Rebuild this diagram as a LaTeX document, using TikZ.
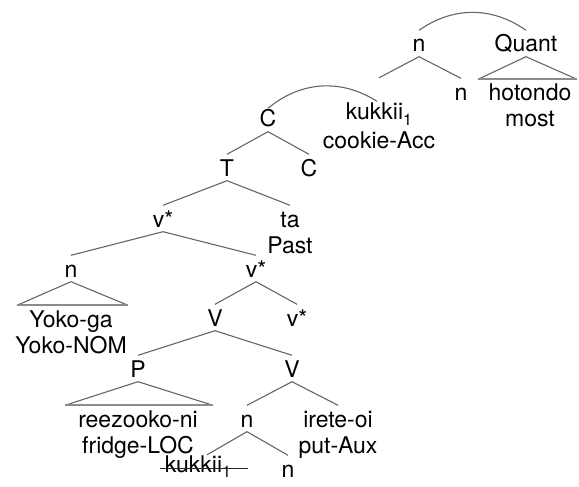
\documentclass[tikz,border=0pt]{standalone}
\usepackage{fontspec}
\setmainfont{TeX Gyre Heros}
\def\mystrut{\vrule width0pt height21.5pt depth4.5pt\relax}
\newcommand\twol[3][4.5pt]{\vtop{\offinterlineskip\halign{\hfil##\hfil\cr\vrule width0pt height21.5pt depth#1\relax #2\cr\mystrut #3\cr}}}
\newcommand\subone{\raisebox{-5.5pt}{\fontsize{16}{16}\selectfont 1}}
\begin{document}
\begin{tikzpicture}[x=1pt,y=-1pt,
  lab/.style={inner sep=0pt, anchor=base, font=\fontsize{23}{26}\selectfont, execute at begin node=\mystrut},
  br/.style={draw=black!60, line width=1.1pt},
  tribase/.style={draw=black!45, line width=1.8pt},
  strike/.style={draw=black!85, line width=1pt}]
\fill[white] (0,0) rectangle (579,487);
\useasboundingbox (0,0) rectangle (579,487);
% nodes
\node[lab] (nt) at (419,52) {n};
\node[lab] (q) at (526,52) {Quant};
\node[lab] (ho) at (530,100) {\twol{hotondo}{most}};
\node[lab] (nn) at (461,100) {n};
\node[lab] (ku) at (379,120) {\twol[7.5pt]{kukkii\subone}{cookie-Acc}};
\node[lab] (c1) at (268,127) {C};
\node[lab] (t) at (227,176) {T};
\node[lab] (c2) at (309,176) {C};
\node[lab] (vs1) at (163,227) {v*};
\node[lab] (ta) at (290,227) {\twol{ta}{Past}};
\node[lab] (n1) at (71,277) {n};
\node[lab] (vs2) at (256,277) {v*};
\node[lab] (yo) at (71,327) {\twol{Yoko-ga}{Yoko-NOM}};
\node[lab] (v1) at (215,326) {V};
\node[lab] (vs3) at (297,326) {v*};
\node[lab] (p) at (138,377) {P};
\node[lab] (v2) at (292,377) {V};
\node[lab] (re) at (138,427) {\twol{reezooko-ni}{fridge-LOC}};
\node[lab] (n2) at (247,427) {n};
\node[lab] (ir) at (338,427) {\twol{irete-oi}{put-Aux}};
\node[lab] (kk) at (198,472) {kukkii\subone};
\node[lab] (n3) at (288,477) {n};
% branches
\draw[br] (c1.south) -- (t.north);
\draw[br] (c1.south) -- (c2.north);
\draw[br] (t.south) -- (vs1.north);
\draw[br] (t.south) -- (ta.north);
\draw[br] (vs1.south) -- (n1.north);
\draw[br] (vs1.south) -- (vs2.north);
\draw[br] (vs2.south) -- (v1.north);
\draw[br] (vs2.south) -- (vs3.north);
\draw[br] (v1.south) -- (p.north);
\draw[br] (v1.south) -- (v2.north);
\draw[br] (v2.south) -- (n2.north);
\draw[br] (v2.south) -- (ir.north);
\draw[br] (n2.south) -- ([xshift=9pt,yshift=-4.5pt]kk.north);
\draw[br] (n2.south) -- (n3.north);
\draw[br] (nt.south) -- ([yshift=20.5pt]ku.north);
\draw[br] (nt.south) -- (nn.north);
% triangles
\draw[br] ([xshift=-54pt]yo.north) -- (n1.south) -- ([xshift=57pt]yo.north);
\draw[tribase] ([xshift=-54pt]yo.north) -- ([xshift=57pt]yo.north);
\draw[br] ([xshift=-73pt]re.north) -- (p.south) -- ([xshift=75pt]re.north);
\draw[tribase] ([xshift=-73pt]re.north) -- ([xshift=75pt]re.north);
\draw[br] ([xshift=-52pt,yshift=-1pt]ho.north) -- (q.south) -- ([xshift=47pt,yshift=-1pt]ho.north);
\draw[tribase] ([xshift=-52pt,yshift=-1pt]ho.north) -- ([xshift=47pt,yshift=-1pt]ho.north);
% movement arcs
\draw[br] ([yshift=-3pt]c1.north) to[bend left=36] ([xshift=-2pt,yshift=-3pt]ku.north);
\draw[br] (nt.north) to[bend left=35] (q.north);
% strike-through
\draw[strike] ([xshift=-5pt,yshift=4pt]kk.base west) -- ([xshift=17pt,yshift=4pt]kk.base east);
\end{tikzpicture}
\end{document}
